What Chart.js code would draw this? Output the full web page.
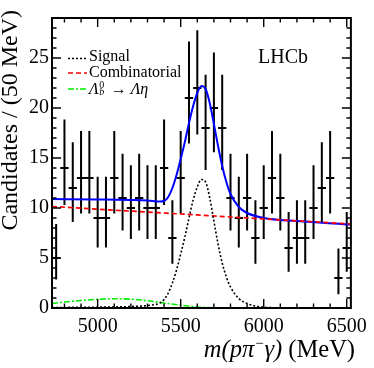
<!DOCTYPE html>
<html><head><meta charset="utf-8">
<script src="https://cdn.jsdelivr.net/npm/chart.js@4"></script>
<style>
html,body{margin:0;padding:0;background:#fff;}
#wrap{position:relative;width:374px;height:368px;overflow:hidden;font-family:'Liberation Serif','Times New Roman',serif;color:#000;}
canvas{position:absolute;left:0;top:0;}
.t{position:absolute;white-space:nowrap;line-height:1;}
#ytitle{font-size:24px;width:240px;text-align:right;transform-origin:0 0;transform:rotate(-90deg);left:-3px;top:250px;}
#xtitle{font-size:24.5px;right:19px;top:337px;}
#lhcb{font-size:20px;left:258px;top:46px;}
.leg{font-size:16px;left:89px;}
svg{position:absolute;left:0;top:0;}
</style></head><body>
<div id="wrap">
<canvas id="c" width="374" height="368"></canvas>
<div class="t" id="ytitle">Candidates / (50 MeV)</div>
<div class="t" id="xtitle"><i>m(pπ<sup style="font-size:15px;vertical-align:9px;line-height:0">−</sup>γ)</i> (MeV)</div>
<div class="t" id="lhcb">LHCb</div>
<div class="t leg" style="top:47.6px">Signal</div>
<div class="t leg" style="top:64.1px">Combinatorial</div>
<div class="t leg" style="top:80.6px"><i>Λ</i><span style="position:relative;display:inline-block;width:8px;height:10px;"><span style="position:absolute;left:0.5px;top:-3.9px;font-size:10px;line-height:1">0</span><span style="position:absolute;left:0.5px;top:3.6px;font-size:10px;line-height:1;font-style:italic">b</span></span> → <i>Λη</i></div>
<svg width="374" height="368">
<line x1="68" y1="58.5" x2="87" y2="58.5" stroke="#000" stroke-width="1.6" stroke-dasharray="2,2"/>
<line x1="68" y1="73" x2="87" y2="73" stroke="#ff0000" stroke-width="1.6" stroke-dasharray="5,3"/>
<line x1="68" y1="89" x2="87" y2="89" stroke="#00ee00" stroke-width="1.6" stroke-dasharray="6,2,2,2"/>
</svg>
</div>
<script>
// ---- data ----
const massBins = [4750,4800,4850,4900,4950,5000,5050,5100,5150,5200,5250,5300,5350,5400,5450,5500,5550,5600,5650,5700,5750,5800,5850,5900,5950,6000,6050,6100,6150,6200,6250,6300,6350,6400,6450,6500];
const candidates = [5,14,12,13,13,9,9,13,11,10,11,10,10,14,7,13,21,22,18,20,18,11,9,11,7,10,13,11,6,7,7,10,12,13,3,6];
const errUp   = [3.40,4.84,4.57,4.71,4.71,4.12,4.12,4.71,4.43,4.28,4.43,4.28,4.28,4.84,3.78,4.71,5.66,5.77,5.33,5.56,5.33,4.43,4.12,4.43,3.78,4.28,4.71,4.43,3.60,3.78,3.78,4.28,4.57,4.71,2.94,3.60];
const errDown = [2.16,3.69,3.41,3.55,3.55,2.94,2.94,3.55,3.26,3.10,3.26,3.10,3.10,3.69,2.58,3.55,4.54,4.65,4.20,4.43,4.20,3.26,2.94,3.26,2.58,3.10,3.55,3.26,2.37,2.58,2.58,3.10,3.41,3.55,1.63,2.37];
const binHalfWidth = 25;

const fitMass  = [4725,5000,5200,5300,5375,5400,5425,5450,5475,5500,5525,5550,5575,5600,5625,5650,5675,5700,5725,5750,5775,5800,5850,5900,6000,6200,6525];
const totalFit = [10.9,10.85,10.8,10.75,10.65,10.7,11.1,12.0,13.3,14.9,16.6,18.5,20.2,21.5,22.2,21.9,20.5,18.4,16.2,14.2,12.6,11.4,10.1,9.5,9.0,8.7,8.35];

const combMass   = [4725,5000,5500,6000,6525];
const combValues = [10.15,9.88,9.40,8.91,8.40];

const signalMass   = [4725,5000,5200,5300,5375,5400,5425,5450,5475,5500,5525,5550,5575,5600,5625,5650,5675,5700,5725,5750,5775,5800,5850,5900,5950,6000,6100,6525];
const signalValues = [0.05,0.08,0.15,0.25,0.5,0.85,1.5,2.5,3.8,5.4,7.1,9.0,10.8,12.1,12.85,12.6,11.0,8.7,6.4,4.5,3.1,2.1,0.95,0.45,0.2,0.08,0.02,0];

const lambdaEtaMass   = [4725,4800,4900,5000,5100,5200,5300,5400,5500,5600,5700,5800,6000,6525];
const lambdaEtaValues = [0.45,0.6,0.75,0.87,0.93,0.88,0.72,0.5,0.28,0.1,0.03,0.01,0,0];

const xAxisTicks = [5000,5500,6000,6500];
const yAxisTicks = [0,5,10,15,20,25];

const pts = (xs, ys) => xs.map((v, i) => ({x: v, y: ys[i]}));

const errorBarPlugin = {
  id: 'errorBars',
  beforeDatasetsDraw(chart) {
    const {ctx, scales: {x, y}} = chart;
    ctx.save();
    ctx.strokeStyle = '#000';
    ctx.lineWidth = 2;
    ctx.beginPath();
    for (let i = 0; i < massBins.length; i++) {
      const px = x.getPixelForValue(massBins[i]);
      const py = y.getPixelForValue(candidates[i]);
      ctx.moveTo(px, y.getPixelForValue(candidates[i] + errUp[i]));
      ctx.lineTo(px, y.getPixelForValue(candidates[i] - errDown[i]));
      ctx.moveTo(x.getPixelForValue(massBins[i] - binHalfWidth), py);
      ctx.lineTo(x.getPixelForValue(massBins[i] + binHalfWidth), py);
    }
    ctx.stroke();
    ctx.restore();
  }
};

const framePlugin = {
  id: 'frame',
  afterDraw(chart) {
    const {ctx, chartArea: a, scales: {x, y}} = chart;
    ctx.save();
    ctx.strokeStyle = '#000';
    ctx.lineWidth = 1.4;
    ctx.beginPath();
    for (let v = Math.ceil(x.min / 100) * 100; v <= x.max; v += 100) {
      const px = x.getPixelForValue(v);
      const len = xAxisTicks.includes(v) ? 9 : 4.5;
      ctx.moveTo(px, a.bottom); ctx.lineTo(px, a.bottom - len);
      ctx.moveTo(px, a.top); ctx.lineTo(px, a.top + len);
    }
    for (let v = Math.ceil(y.min); v <= y.max; v += 1) {
      const py = y.getPixelForValue(v);
      const len = yAxisTicks.includes(v) ? 9 : 4.5;
      ctx.moveTo(a.left, py); ctx.lineTo(a.left + len, py);
      ctx.moveTo(a.right, py); ctx.lineTo(a.right - len, py);
    }
    ctx.stroke();
    ctx.lineWidth = 2;
    ctx.strokeRect(a.left, a.top, a.right - a.left, a.bottom - a.top);
    ctx.restore();
  }
};

const lineDs = (label, xs, ys, color, dash, width, order) => ({
  label, data: pts(xs, ys), showLine: true, borderColor: color, borderDash: dash,
  borderWidth: width, pointRadius: 0, fill: false, cubicInterpolationMode: 'monotone', order
});

const tickFont = {family: "'Liberation Serif', 'Times New Roman', serif", size: 20};

new Chart(document.getElementById('c'), {
  type: 'scatter',
  data: {
    datasets: [
      lineDs('Signal', signalMass, signalValues, '#000000', [2, 2], 1.6, 0),
      lineDs('Λb0 → Λη', lambdaEtaMass, lambdaEtaValues, '#00ee00', [6, 2, 2, 2], 1.6, 0),
      lineDs('Combinatorial', combMass, combValues, '#ff0000', [5, 3], 1.7, 1),
      lineDs('Total', fitMass, totalFit, '#0000ff', [], 2, 2),
      {label: 'Data', data: pts(massBins, candidates), showLine: false, pointRadius: 0, order: 3}
    ]
  },
  options: {
    responsive: false,
    animation: false,
    layout: {padding: {top: 18, right: 19, left: 0, bottom: 0}},
    plugins: {legend: {display: false}, tooltip: {enabled: false}},
    scales: {
      x: {
        type: 'linear', min: 4725, max: 6525,
        afterBuildTicks: s => { s.ticks = xAxisTicks.map(v => ({value: v})); },
        afterFit: s => { s.height = 60; },
        grid: {display: false, drawTicks: false}, border: {display: false},
        ticks: {font: tickFont, color: '#000', padding: 7, maxRotation: 0, autoSkip: false, callback: v => String(v)}
      },
      y: {
        type: 'linear', min: 0, max: 29,
        afterBuildTicks: s => { s.ticks = yAxisTicks.map(v => ({value: v})); },
        afterFit: s => { s.width = 52; },
        grid: {display: false, drawTicks: false}, border: {display: false},
        ticks: {font: tickFont, color: '#000', padding: 3, autoSkip: false, callback: v => String(v)}
      }
    }
  },
  plugins: [errorBarPlugin, framePlugin]
});
</script>
</body></html>
